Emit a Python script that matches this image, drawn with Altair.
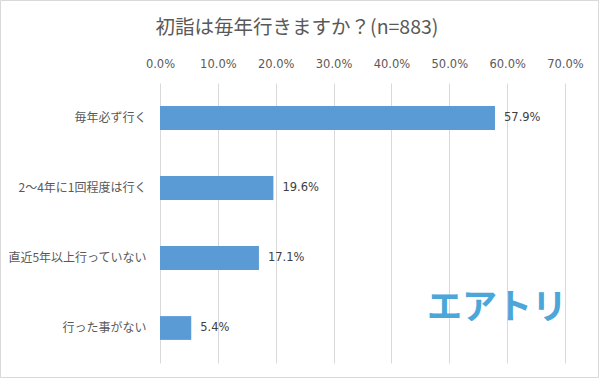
import altair as alt
import pandas as pd

categories = ["毎年必ず行く", "2～4年に1回程度は行く", "直近5年以上行っていない", "行った事がない"]
values = [57.9, 19.6, 17.1, 5.4]
labels = ["57.9%", "19.6%", "17.1%", "5.4%"]
title_text = "初詣は毎年行きますか？(n=883)"
logo_text = "エアトリ"

df = pd.DataFrame({"cat": categories, "val": values, "lab": labels})

FONT = "Noto Sans CJK JP"
NUMFONT = "DejaVu Sans"
W, H = 405, 280

x_enc = alt.X("val:Q", scale=alt.Scale(domain=[0, 70], nice=False),
              axis=alt.Axis(orient="top", values=[0, 10, 20, 30, 40, 50, 60, 70],
                            labelExpr="format(datum.value, '.1f') + '%'",
                            title=None, ticks=False, domain=False, labelFlush=False,
                            gridColor="#D9D9D9", labelColor="#595959",
                            labelFontSize=11.5, labelFont=NUMFONT, labelPadding=14))
y_enc = alt.Y("cat:N", sort=categories,
              scale=alt.Scale(paddingInner=0.66, paddingOuter=0.33),
              axis=alt.Axis(title=None, ticks=False, domain=False, grid=False,
                            labelColor="#595959", labelFontSize=12, labelFont=FONT,
                            labelPadding=14))

bars = alt.Chart(df).mark_bar(color="#5B9BD5").encode(x=x_enc, y=y_enc)
text = alt.Chart(df).mark_text(align="left", dx=9, fontSize=11.5, font=NUMFONT,
                               color="#404040").encode(
    x="val:Q", y=alt.Y("cat:N", sort=categories), text="lab:N")

title = alt.Chart(pd.DataFrame({"t": [title_text]})).mark_text(
    fontSize=19.5, font=FONT, color="#595959").encode(
    x=alt.value(137), y=alt.value(-55), text="t:N")

logo = alt.Chart(pd.DataFrame({"t": [logo_text]})).mark_text(
    fontSize=35, font=FONT, fontWeight="bold", color="#4BA6DA").encode(
    x=alt.value(337), y=alt.value(225), text="t:N")

border = alt.Chart(pd.DataFrame({"a": [0]})).mark_rect(
    fill=None, stroke="#D9D9D9", strokeWidth=1).encode(
    x=alt.value(-159.5), x2=alt.value(438.5), y=alt.value(-82.5), y2=alt.value(294.5))

chart = alt.layer(bars, text, title, logo, border).properties(
    width=W, height=H,
    autosize=alt.AutoSizeParams(type="none"),
    padding={"left": 160, "top": 83, "right": 34, "bottom": 15},
    background="white",
).configure_view(stroke=None)

chart.save("out.html", embed_options={"renderer": "svg", "actions": False})
